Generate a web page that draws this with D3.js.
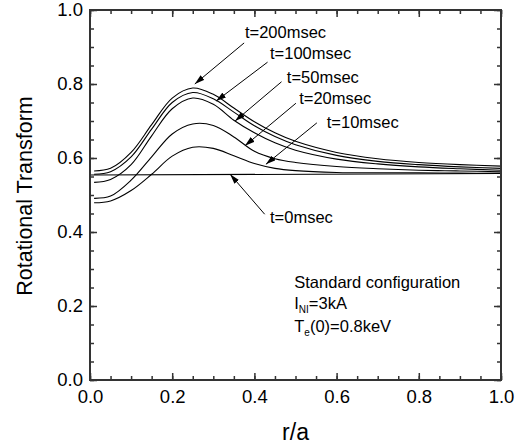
<!DOCTYPE html>
<html>
<head>
<meta charset="utf-8">
<script src="https://cdn.jsdelivr.net/npm/d3@7"></script>
<style>
  body { margin: 0; background: #fff; }
  svg text { font-family: "Liberation Sans", Arial, sans-serif; fill: #000; }
</style>
</head>
<body>
<svg id="chart"></svg>
<script>
// [A] Datos -----------------------------------------------------------------
const rGrid = [0.01, 0.05, 0.1, 0.15, 0.2, 0.25, 0.3, 0.35, 0.4, 0.45, 0.5, 0.6, 0.7, 0.8, 0.9, 1.0];
const iota200 = [0.565, 0.572, 0.615, 0.690, 0.762, 0.789, 0.772, 0.735, 0.698, 0.668, 0.645, 0.615, 0.598, 0.588, 0.582, 0.578];
const iota100 = [0.556, 0.563, 0.603, 0.678, 0.750, 0.777, 0.760, 0.724, 0.687, 0.658, 0.636, 0.607, 0.591, 0.582, 0.576, 0.572];
const iota50  = [0.534, 0.542, 0.582, 0.660, 0.733, 0.762, 0.745, 0.702, 0.668, 0.641, 0.621, 0.597, 0.584, 0.576, 0.571, 0.567];
const iota20  = [0.491, 0.497, 0.540, 0.603, 0.665, 0.692, 0.688, 0.657, 0.618, 0.598, 0.588, 0.577, 0.571, 0.567, 0.565, 0.563];
const iota10  = [0.479, 0.484, 0.512, 0.556, 0.605, 0.629, 0.626, 0.606, 0.585, 0.572, 0.566, 0.561, 0.560, 0.560, 0.559, 0.559];
const rFlat = [0.0, 1.0];
const iota0 = [0.554, 0.558];

const xMajor = [0.0, 0.2, 0.4, 0.6, 0.8, 1.0];
const yMajor = [0.0, 0.2, 0.4, 0.6, 0.8, 1.0];
const minorTicks = d3.range(0, 21).map(i => i / 20);

// etiquetas con flecha (en unidades de datos)
const arrowLabels = ["t=200msec", "t=100msec", "t=50msec", "t=20msec", "t=10msec", "t=0msec"];
const labelAt = [[0.377, 0.924], [0.438, 0.868], [0.479, 0.803], [0.509, 0.746], [0.576, 0.681], [0.438, 0.425]];
const arrowFrom = [[0.375, 0.911], [0.432, 0.859], [0.466, 0.806], [0.501, 0.748], [0.552, 0.695], [0.425, 0.448]];
const arrowTo = [[0.255, 0.800], [0.307, 0.754], [0.353, 0.700], [0.377, 0.633], [0.428, 0.583], [0.341, 0.556]];

// [B] Configuracion ----------------------------------------------------------
const width = 517;
const height = 448;
const margin = { top: 10, right: 16, bottom: 68, left: 90 };

const x = d3.scaleLinear().domain([0, 1]).range([margin.left, width - margin.right]);
const y = d3.scaleLinear().domain([0, 1]).range([height - margin.bottom, margin.top]);

const svg = d3.select("#chart").attr("width", width).attr("height", height);

svg.append("defs").append("marker")
    .attr("id", "head")
    .attr("viewBox", "0 0 10 6")
    .attr("refX", 10).attr("refY", 3)
    .attr("markerUnits", "userSpaceOnUse")
    .attr("markerWidth", 10).attr("markerHeight", 6)
    .attr("orient", "auto")
  .append("path")
    .attr("d", "M0,0 L10,3 L0,6 Z")
    .attr("fill", "#000");

// [C] Curvas -----------------------------------------------------------------
const line = d3.line().x(d => x(d[0])).y(d => y(d[1])).curve(d3.curveCatmullRom.alpha(0.5));
const series = [iota200, iota100, iota50, iota20, iota10].map(v => rGrid.map((r, i) => [r, v[i]]));
series.push(rFlat.map((r, i) => [r, iota0[i]]));

svg.append("g").selectAll("path")
    .data(series)
    .join("path")
    .attr("d", line)
    .attr("fill", "none")
    .attr("stroke", "#000")
    .attr("stroke-width", 1.1);

// [D] Ejes ---------------------------------------------------------------------
const axisColor = "#333";
const fs = 18.5;

function styleAxis(g) {
  g.select(".domain").remove();
  g.selectAll(".tick line").attr("stroke", axisColor).attr("stroke-width", 1.5);
  g.selectAll(".tick text").attr("font-size", fs).attr("font-family", "Liberation Sans, Arial, sans-serif");
}

const x0 = y(0), x1 = y(1);
svg.append("g").attr("transform", `translate(0,${x0})`)
    .call(d3.axisBottom(x).tickValues(xMajor).tickFormat(d3.format(".1f")).tickSize(-7).tickPadding(10))
    .call(styleAxis);
svg.append("g").attr("transform", `translate(0,${x0})`)
    .call(d3.axisBottom(x).tickValues(minorTicks).tickFormat("").tickSize(-4))
    .call(styleAxis);
svg.append("g").attr("transform", `translate(0,${x1})`)
    .call(d3.axisTop(x).tickValues(minorTicks).tickFormat("").tickSize(-4))
    .call(styleAxis);
svg.append("g").attr("transform", `translate(0,${x1})`)
    .call(d3.axisTop(x).tickValues(xMajor).tickFormat("").tickSize(-7))
    .call(styleAxis);

svg.append("g").attr("transform", `translate(${x(0)},0)`)
    .call(d3.axisLeft(y).tickValues(yMajor).tickFormat(d3.format(".1f")).tickSize(-7).tickPadding(7))
    .call(styleAxis);
svg.append("g").attr("transform", `translate(${x(0)},0)`)
    .call(d3.axisLeft(y).tickValues(minorTicks).tickFormat("").tickSize(-4))
    .call(styleAxis);
svg.append("g").attr("transform", `translate(${x(1)},0)`)
    .call(d3.axisRight(y).tickValues(yMajor).tickFormat("").tickSize(-7))
    .call(styleAxis);
svg.append("g").attr("transform", `translate(${x(1)},0)`)
    .call(d3.axisRight(y).tickValues(minorTicks).tickFormat("").tickSize(-4))
    .call(styleAxis);

// marco
svg.append("rect")
    .attr("x", x(0)).attr("y", y(1))
    .attr("width", x(1) - x(0)).attr("height", y(0) - y(1))
    .attr("fill", "none").attr("stroke", axisColor).attr("stroke-width", 2);

// titulos de ejes
svg.append("text")
    .attr("x", (x(0) + x(1)) / 2).attr("y", 440)
    .attr("text-anchor", "middle").attr("font-size", 23)
    .text("r/a");
svg.append("text")
    .attr("transform", `translate(32,${(y(0) + y(1)) / 2 + 1}) rotate(-90)`)
    .attr("text-anchor", "middle").attr("font-size", 21.5)
    .text("Rotational Transform");

// [E] Flechas y etiquetas ----------------------------------------------------
const notes = svg.append("g");
arrowLabels.forEach((lab, i) => {
  notes.append("line")
      .attr("x1", x(arrowFrom[i][0])).attr("y1", y(arrowFrom[i][1]))
      .attr("x2", x(arrowTo[i][0])).attr("y2", y(arrowTo[i][1]))
      .attr("stroke", "#000").attr("stroke-width", 1)
      .attr("marker-end", "url(#head)");
  notes.append("text")
      .attr("x", x(labelAt[i][0])).attr("y", y(labelAt[i][1]))
      .attr("font-size", 16.5)
      .text(lab);
});

// [F] Texto de condiciones ---------------------------------------------------
const info = svg.append("g").attr("font-size", 16.5);
info.append("text").attr("x", x(0.497)).attr("y", y(0.248)).text("Standard configuration");
const l2 = info.append("text").attr("x", x(0.497)).attr("y", y(0.192));
l2.append("tspan").text("I");
l2.append("tspan").attr("font-size", 10).attr("dy", 4).text("NI");
l2.append("tspan").attr("dy", -4).text("=3kA");
const l3 = info.append("text").attr("x", x(0.497)).attr("y", y(0.131));
l3.append("tspan").text("T");
l3.append("tspan").attr("font-size", 10).attr("dy", 4).text("e");
l3.append("tspan").attr("dy", -4).text("(0)=0.8keV");
</script>
</body>
</html>
